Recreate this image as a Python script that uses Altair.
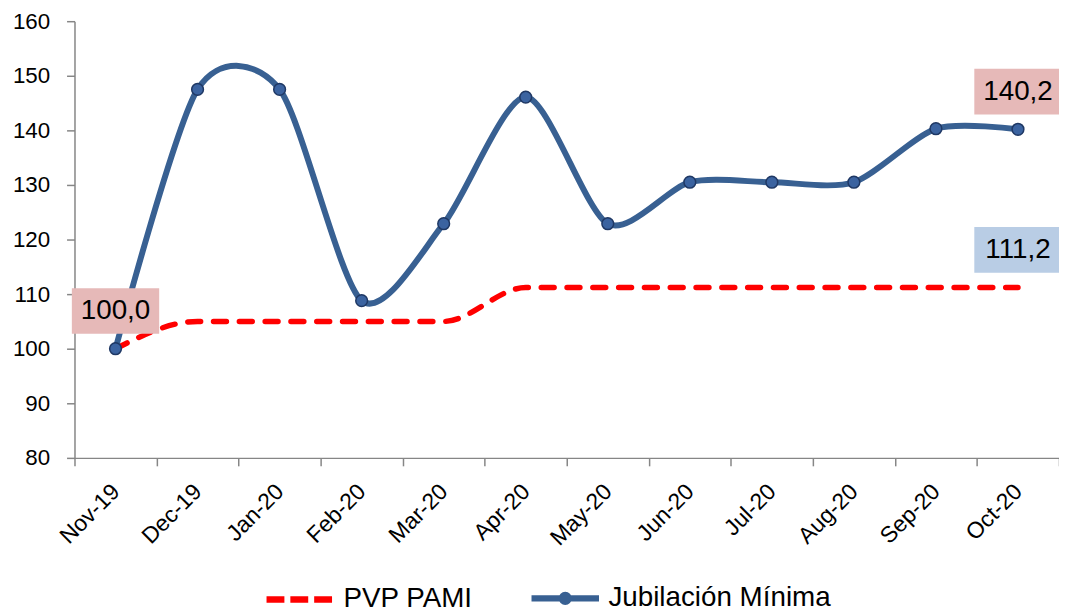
import altair as alt
import pandas as pd

months = ["Nov-19", "Dec-19", "Jan-20", "Feb-20", "Mar-20", "Apr-20",
          "May-20", "Jun-20", "Jul-20", "Aug-20", "Sep-20", "Oct-20"]
jubilacion = [100.0, 147.5, 147.5, 108.8, 122.9, 146.1, 122.9, 130.5, 130.5, 130.5, 140.3, 140.2]
pvp_pami = [100.0, 105.0, 105.0, 105.0, 105.0, 111.2, 111.2, 111.2, 111.2, 111.2, 111.2, 111.2]
series = ["PVP PAMI", "Jubilación Mínima"]

label_months = ["Nov-19", "Oct-20", "Oct-20"]
label_values = [100.0, 140.2, 111.2]
label_texts = ["100,0", "140,2", "111,2"]
label_series = ["Jubilación Mínima", "Jubilación Mínima", "PVP PAMI"]

FONT = "Liberation Sans"
BLUE = "#386092"
RED = "#FF0000"

rows = []
for m, j, p in zip(months, jubilacion, pvp_pami):
    rows.append({"mes": m, "serie": "PVP PAMI", "valor": p})
    rows.append({"mes": m, "serie": "Jubilación Mínima", "valor": j})
df = pd.DataFrame(rows)
labels = pd.DataFrame({"mes": label_months, "valor": label_values,
                       "texto": label_texts, "serie": label_series})

x = alt.X("mes:N", sort=months, title=None,
          scale=alt.Scale(type="band", paddingInner=0, paddingOuter=0),
          axis=alt.Axis(labelAngle=-45, labelAlign="right", labelBaseline="middle",
                        labelPadding=22, tickBand="extent", tickSize=8,
                        labelFontSize=23, labelFont=FONT, labelColor="#000000"))
y = alt.Y("valor:Q", title=None,
          scale=alt.Scale(domain=[80, 160], nice=False, zero=False),
          axis=alt.Axis(values=list(range(80, 161, 10)), tickSize=8, labelPadding=17,
                        labelFontSize=22.5, labelFont=FONT, labelColor="#000000", grid=False))

legend_shape = ("datum.value == 'Jubilación Mínima' ? "
                "'M-1,0H1M0.1,0A0.1,0.1,0,1,1,-0.1,0A0.1,0.1,0,1,1,0.1,0' : 'stroke'")
legend_dash = "datum.value == 'PVP PAMI' ? [18, 6] : []"

color = alt.Color("serie:N",
                  scale=alt.Scale(domain=series, range=[RED, BLUE]),
                  legend=alt.Legend(title=None, orient="none", direction="horizontal",
                                    legendX=190, legendY=544,
                                    symbolType={"expr": legend_shape},
                                    symbolDash={"expr": legend_dash},
                                    symbolSize=4624, symbolStrokeWidth=6.5,
                                    labelFontSize=28, labelFont=FONT, labelColor="#000000",
                                    labelOffset=6, columnPadding=45, labelLimit=400))

base = alt.Chart(df)

red_line = base.transform_filter(alt.datum.serie == "PVP PAMI").mark_line(
    interpolate="monotone", strokeWidth=5.5, strokeCap="round",
    strokeDash=[13, 13]
).encode(x=x, y=y, color=color)

blue_line = base.transform_filter(alt.datum.serie == "Jubilación Mínima").mark_line(
    interpolate="cardinal", tension=0.2, strokeWidth=6, strokeCap="round"
).encode(x=x, y=y, color=color)

points = base.transform_filter(alt.datum.serie == "Jubilación Mínima").mark_point(
    filled=True, size=140, fill="#3B63A0", stroke="#1F3864", strokeWidth=1.5, opacity=1
).encode(x=x, y=y)

box_shape = "M-1,-0.523H1V0.523H-1Z"
boxes = alt.Chart(labels).mark_point(
    shape=box_shape, size=7744, filled=True, opacity=1, yOffset=-38
).encode(
    x=x, y=y,
    fill=alt.Fill("serie:N", scale=alt.Scale(domain=series, range=["#B9CDE5", "#E6B9B8"]),
                  legend=None)
)

texts = alt.Chart(labels).mark_text(
    fontSize=28, font=FONT, color="#000000", yOffset=-38, baseline="middle", align="center"
).encode(x=x, y=y, text="texto:N")

chart = alt.layer(red_line, blue_line, points, boxes, texts).properties(
    width=992, height=440,
    autosize=alt.AutoSizeParams(type="none"),
    padding={"left": 67, "top": 11, "right": 0, "bottom": 153},
    background="#FFFFFF"
).configure_view(stroke=None).configure_axis(
    domainColor="#868686", tickColor="#868686", domainWidth=1.5, tickWidth=1.5,
    labelFont=FONT
).resolve_scale(fill="independent")

chart.save("out.html", embed_options={"renderer": "svg", "actions": False})
